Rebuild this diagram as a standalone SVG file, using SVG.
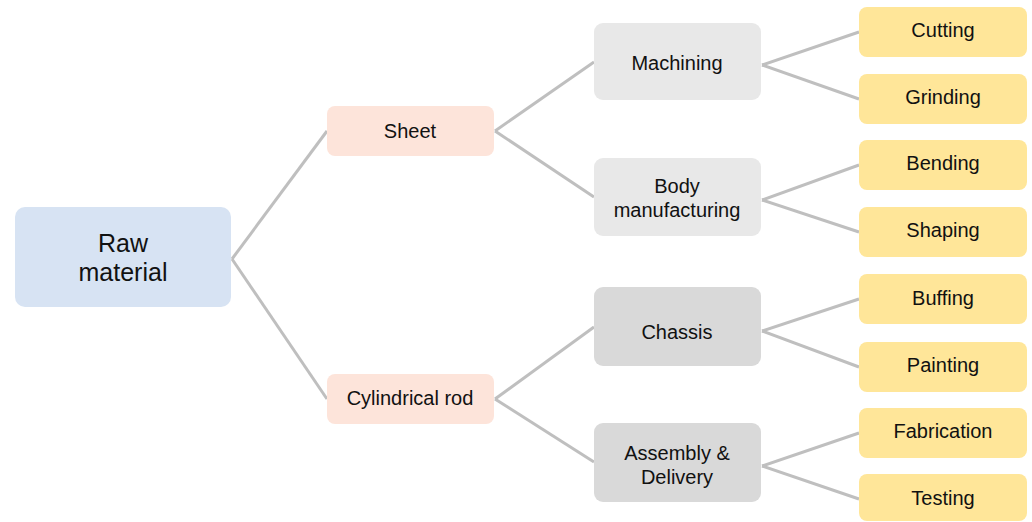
<svg xmlns="http://www.w3.org/2000/svg" width="1032" height="522" viewBox="0 0 1032 522">
<style>
text{font-family:"Liberation Sans",Arial,sans-serif;fill:#111;text-anchor:middle}
.t{font-size:20px}
.root{font-size:25px}
.blue{fill:#D7E3F3}
.pink{fill:#FDE4DA}
.lg{fill:#E8E8E8}
.dg{fill:#D9D9D9}
.y{fill:#FFE699}
#connectors line{stroke:#BFBFBF;stroke-width:3;fill:none}
</style>
<rect width="1032" height="522" fill="#fff"/>
<g id="connectors">
<line x1="232" y1="259" x2="327" y2="131"/>
<line x1="232" y1="259" x2="327" y2="399"/>
<line x1="495" y1="131" x2="594" y2="62"/>
<line x1="495" y1="131" x2="594" y2="197"/>
<line x1="495" y1="399" x2="594" y2="327"/>
<line x1="495" y1="399" x2="594" y2="462"/>
<line x1="762" y1="65" x2="859" y2="32"/>
<line x1="762" y1="65" x2="859" y2="99"/>
<line x1="762" y1="200" x2="859" y2="165"/>
<line x1="762" y1="200" x2="859" y2="232"/>
<line x1="762" y1="331" x2="859" y2="299"/>
<line x1="762" y1="331" x2="859" y2="367"/>
<line x1="762" y1="466" x2="859" y2="433"/>
<line x1="762" y1="466" x2="859" y2="499"/>
</g>
<g id="raw"><rect class="blue" x="15" y="207" width="216" height="100" rx="10"/><text class="root" x="123" y="252">Raw</text><text class="root" x="123" y="281">material</text></g>
<g id="sheet"><rect class="pink" x="327" y="106" width="167" height="50" rx="8"/><text class="t" x="410" y="138">Sheet</text></g>
<g id="rod"><rect class="pink" x="327" y="374" width="167" height="50" rx="8"/><text class="t" x="410" y="405">Cylindrical rod</text></g>
<g id="machining"><rect class="lg" x="594" y="23" width="167" height="77" rx="9"/><text class="t" x="677" y="70">Machining</text></g>
<g id="body"><rect class="lg" x="594" y="158" width="167" height="78" rx="9"/><text class="t" x="677" y="193">Body</text><text class="t" x="677" y="217">manufacturing</text></g>
<g id="chassis"><rect class="dg" x="594" y="287" width="167" height="79" rx="9"/><text class="t" x="677" y="339">Chassis</text></g>
<g id="assembly"><rect class="dg" x="594" y="423" width="167" height="79" rx="9"/><text class="t" x="677" y="460">Assembly &amp;</text><text class="t" x="677" y="484">Delivery</text></g>
<g id="cutting"><rect class="y" x="859" y="7" width="168" height="50" rx="8"/><text class="t" x="943" y="37">Cutting</text></g>
<g id="grinding"><rect class="y" x="859" y="74" width="168" height="50" rx="8"/><text class="t" x="943" y="104">Grinding</text></g>
<g id="bending"><rect class="y" x="859" y="140" width="168" height="50" rx="8"/><text class="t" x="943" y="170">Bending</text></g>
<g id="shaping"><rect class="y" x="859" y="207" width="168" height="50" rx="8"/><text class="t" x="943" y="237">Shaping</text></g>
<g id="buffing"><rect class="y" x="859" y="274" width="168" height="50" rx="8"/><text class="t" x="943" y="305">Buffing</text></g>
<g id="painting"><rect class="y" x="859" y="342" width="168" height="50" rx="8"/><text class="t" x="943" y="372">Painting</text></g>
<g id="fabrication"><rect class="y" x="859" y="408" width="168" height="50" rx="8"/><text class="t" x="943" y="438">Fabrication</text></g>
<g id="testing"><rect class="y" x="859" y="474" width="168" height="47" rx="8"/><text class="t" x="943" y="505">Testing</text></g>
</svg>
